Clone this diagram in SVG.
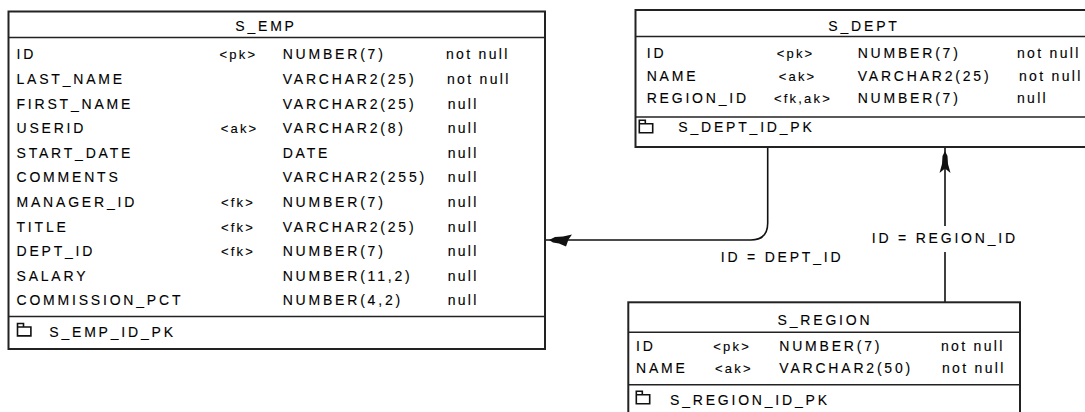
<svg xmlns="http://www.w3.org/2000/svg" width="1085" height="412" viewBox="0 0 1085 412">
  <style>
    .box { fill: #ffffff; stroke: #222222; stroke-width: 2; }
    .sep { stroke: #222222; stroke-width: 1.6; fill: none; }
    text { font-family: "Liberation Sans", Arial, sans-serif; font-size: 14px; fill: #000000; stroke: #000000; stroke-width: 0.12; letter-spacing: 2.8px; }
    .key { font-size: 13px; letter-spacing: 2.2px; }
    .nl { letter-spacing: 2.3px; }
    .title { text-anchor: middle; }
    .icon { fill: none; stroke: #111111; stroke-width: 1.6; }
    .link { fill: none; stroke: #111111; stroke-width: 1.6; }
    .head { fill: #111111; stroke: none; }
  </style>
  <defs>
    <!-- index/key icon shown in table footers -->
    <g id="keyIcon">
      <path class="icon" d="M0.8,13.2 V0.8 H6.8 V4.3 H14.2 V13.2 Z M0.8,4.3 H6.8"/>
    </g>
  </defs>
  <rect width="1085" height="412" fill="#ffffff"/>

  <!-- relationship connectors -->
  <g id="connectors">
    <!-- S_EMP.DEPT_ID -> S_DEPT.ID -->
    <path class="link" d="M767.7,147 V223 Q767.7,240 750.7,240 H546"/>
    <polygon class="head" points="549,240 555,237 563,236.5 572,234.5 568.5,239.5 566,246.5 559,243.5 553,242.5"/>
    <text x="720.7" y="262.3">ID = DEPT_ID</text>
    <!-- S_DEPT.REGION_ID -> S_REGION.ID -->
    <path class="link" d="M945,147 V226 M945,252 V302"/>
    <polygon class="head" points="945,151 947.5,156 948,164 950.5,173 945,168.5 939.5,173 942,164 942.5,156"/>
    <text x="871.7" y="243.3">ID = REGION_ID</text>
  </g>

  <!-- table S_EMP -->
  <g id="s_emp">
    <rect class="box" x="8.5" y="11.5" width="536.5" height="337.5"/>
    <line class="sep" x1="8.5" y1="37.5" x2="545" y2="37.5"/>
    <line class="sep" x1="8.5" y1="316.5" x2="545" y2="316.5"/>
    <text class="title" x="266" y="30.5">S_EMP</text>
    <g>
      <text x="16.5" y="59.3">ID</text>
      <text x="16.5" y="83.9">LAST_NAME</text>
      <text x="16.5" y="108.5">FIRST_NAME</text>
      <text x="16.5" y="133.1">USERID</text>
      <text x="16.5" y="157.7">START_DATE</text>
      <text x="16.5" y="182.3">COMMENTS</text>
      <text x="16.5" y="206.9">MANAGER_ID</text>
      <text x="16.5" y="231.5">TITLE</text>
      <text x="16.5" y="256.1">DEPT_ID</text>
      <text x="16.5" y="280.7">SALARY</text>
      <text x="16.5" y="305.3">COMMISSION_PCT</text>
    </g>
    <g>
      <text class="key" x="219.5" y="59.3">&lt;pk&gt;</text>
      <text class="key" x="220.7" y="133.1">&lt;ak&gt;</text>
      <text class="key" x="221" y="206.9">&lt;fk&gt;</text>
      <text class="key" x="221" y="231.5">&lt;fk&gt;</text>
      <text class="key" x="221" y="256.1">&lt;fk&gt;</text>
    </g>
    <g>
      <text x="282.7" y="59.3">NUMBER(7)</text>
      <text x="282.7" y="83.9">VARCHAR2(25)</text>
      <text x="282.7" y="108.5">VARCHAR2(25)</text>
      <text x="282.7" y="133.1">VARCHAR2(8)</text>
      <text x="282.7" y="157.7">DATE</text>
      <text x="282.7" y="182.3">VARCHAR2(255)</text>
      <text x="282.7" y="206.9">NUMBER(7)</text>
      <text x="282.7" y="231.5">VARCHAR2(25)</text>
      <text x="282.7" y="256.1">NUMBER(7)</text>
      <text x="282.7" y="280.7">NUMBER(11,2)</text>
      <text x="282.7" y="305.3">NUMBER(4,2)</text>
    </g>
    <g>
      <text class="nl" x="446" y="59.3">not null</text>
      <text class="nl" x="447" y="83.9">not null</text>
      <text class="nl" x="447.7" y="108.5">null</text>
      <text class="nl" x="447.7" y="133.1">null</text>
      <text class="nl" x="447.7" y="157.7">null</text>
      <text class="nl" x="447.7" y="182.3">null</text>
      <text class="nl" x="447.7" y="206.9">null</text>
      <text class="nl" x="447.7" y="231.5">null</text>
      <text class="nl" x="447.7" y="256.1">null</text>
      <text class="nl" x="447.7" y="280.7">null</text>
      <text class="nl" x="447.7" y="305.3">null</text>
    </g>
    <use href="#keyIcon" x="16.7" y="322.7"/>
    <text x="49.3" y="337">S_EMP_ID_PK</text>
  </g>

  <!-- table S_DEPT -->
  <g id="s_dept">
    <rect class="box" x="635.5" y="10" width="460" height="137"/>
    <line class="sep" x1="635.5" y1="36.5" x2="1095" y2="36.5"/>
    <line class="sep" x1="635.5" y1="117" x2="1095" y2="117"/>
    <text class="title" x="864" y="30.7">S_DEPT</text>
    <text x="646.7" y="58.4">ID</text>
    <text x="646.7" y="80.8">NAME</text>
    <text x="646.7" y="103.3">REGION_ID</text>
    <text class="key" x="776.7" y="58.4">&lt;pk&gt;</text>
    <text class="key" x="778.7" y="80.8">&lt;ak&gt;</text>
    <text class="key" x="774" y="103.3">&lt;fk,ak&gt;</text>
    <text x="857.7" y="58.4">NUMBER(7)</text>
    <text x="857.7" y="80.8">VARCHAR2(25)</text>
    <text x="857.7" y="103.3">NUMBER(7)</text>
    <text class="nl" x="1017" y="58.4">not null</text>
    <text class="nl" x="1019" y="80.8">not null</text>
    <text class="nl" x="1017" y="103.3">null</text>
    <use href="#keyIcon" x="638.5" y="119.5"/>
    <text x="678.3" y="132">S_DEPT_ID_PK</text>
  </g>

  <!-- table S_REGION -->
  <g id="s_region">
    <rect class="box" x="628.3" y="302.3" width="391.7" height="120"/>
    <line class="sep" x1="628.3" y1="332.3" x2="1020" y2="332.3"/>
    <line class="sep" x1="628.3" y1="384.7" x2="1020" y2="384.7"/>
    <text class="title" x="825" y="325">S_REGION</text>
    <text x="636" y="350.7">ID</text>
    <text x="636" y="373.3">NAME</text>
    <text class="key" x="713.3" y="350.7">&lt;pk&gt;</text>
    <text class="key" x="715" y="373.3">&lt;ak&gt;</text>
    <text x="779.3" y="350.7">NUMBER(7)</text>
    <text x="779.3" y="373.3">VARCHAR2(50)</text>
    <text class="nl" x="941" y="350.7">not null</text>
    <text class="nl" x="942" y="373.3">not null</text>
    <use href="#keyIcon" x="635.5" y="390.5"/>
    <text x="670" y="405">S_REGION_ID_PK</text>
  </g>
</svg>
